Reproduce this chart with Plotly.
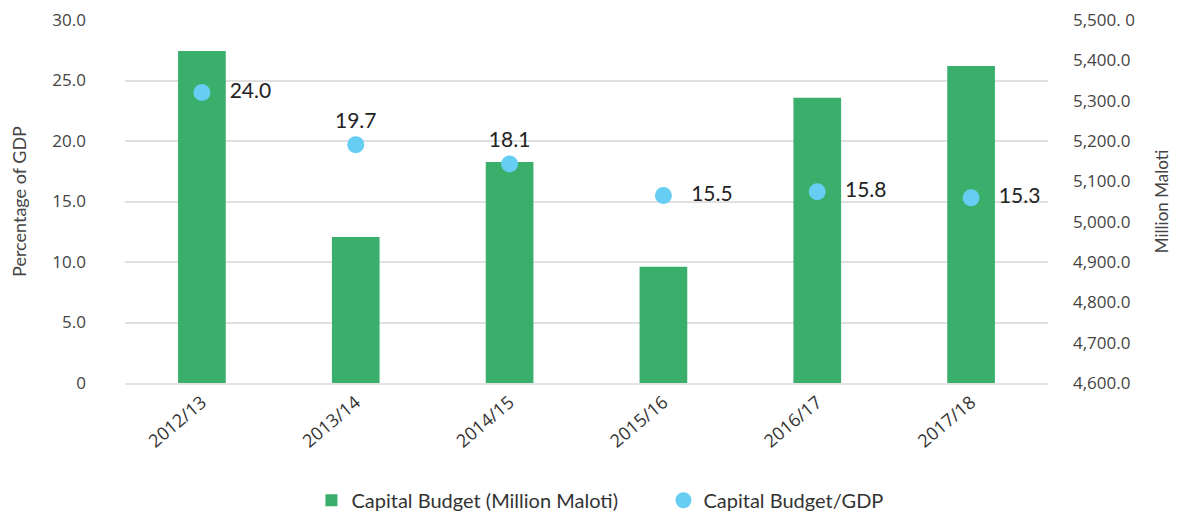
import plotly.graph_objects as go

years = ["2012/13", "2013/14", "2014/15", "2015/16", "2016/17", "2017/18"]
capital_budget = [5423, 4962, 5148, 4888, 5307, 5386]
budget_gdp = [24.0, 19.7, 18.1, 15.5, 15.8, 15.3]
label_pos = ["middle right", "top center", "top center", "middle right", "middle right", "middle right"]
left_ticks = [0, 5, 10, 15, 20, 25, 30]
left_ticktext = ["0", "5.0", "10.0", "15.0", "20.0", "25.0", "30.0"]
right_ticks = [4600, 4700, 4800, 4900, 5000, 5100, 5200, 5300, 5400, 5500]
right_ticktext = ["4,600.0", "4,700.0", "4,800.0", "4,900.0", "5,000.0", "5,100.0",
                  "5,200.0", "5,300.0", "5,400.0", "5,500. 0"]

FONT = "Lato"
TICKFONT = "Open Sans"
GREEN = "#3aaf6c"
BLUE = "#66cdf3"

fig = go.Figure()
# Bars on the primary (right-side) axis so the dots, on the overlaying axis, sit on top
fig.add_trace(go.Bar(
    x=years, y=capital_budget, yaxis="y", name="Capital Budget (Million Maloti)",
    marker=dict(color=GREEN, line=dict(width=0)),
))
fig.add_trace(go.Scatter(
    x=years, y=budget_gdp, yaxis="y2", mode="markers+text", name="Capital Budget/GDP",
    marker=dict(color=BLUE, size=17),
    text=["   " + f"{v:.1f}" if p == "middle right" else f"{v:.1f}" for v, p in zip(budget_gdp, label_pos)],
    textposition=label_pos,
    textfont=dict(family=FONT, size=21, color="#222"),
))

# page body adds an 8px offset, so the figure is 8px smaller than the window
fig.update_layout(
    width=1170, height=508,
    margin=dict(l=117, r=130, t=12, b=133),
    paper_bgcolor="white", plot_bgcolor="white",
    font=dict(family=FONT, color="#444"),
    bargap=0.69,
    showlegend=True,
    legend=dict(orientation="h", x=0.202, xanchor="left",
                yref="container", y=0.031, yanchor="middle",
                font=dict(family=FONT, size=20, color="#333"),
                traceorder="normal", itemwidth=30, entrywidth=307),
    xaxis=dict(
        tickangle=-40, tickfont=dict(family=TICKFONT, size=18, color="#333"),
        showline=True, linecolor="#e3e3e3", linewidth=2, ticks="",
        showgrid=False, automargin=False,
    ),
    yaxis=dict(
        range=[4600, 5500], tickvals=right_ticks, ticktext=right_ticktext,
        side="right", showgrid=False, zeroline=False, automargin=False,
        tickfont=dict(family=TICKFONT, size=17, color="#444"),
        ticklabelstandoff=24, ticklabeloverflow="allow",
        title=dict(text="Million Maloti", font=dict(family=FONT, size=17, color="#444"), standoff=22),
    ),
    yaxis2=dict(
        range=[0, 30], tickvals=left_ticks, ticktext=left_ticktext,
        overlaying="y", side="left", automargin=False,
        tickfont=dict(family=TICKFONT, size=17, color="#444"),
        showgrid=True, gridcolor="#e0e0e0", gridwidth=1.5, zeroline=False,
        ticklabelstandoff=38, ticklabeloverflow="allow",
        title=dict(text="Percentage of GDP", font=dict(family=FONT, size=18, color="#444"), standoff=22),
    ),
)

fig.write_html("out.html")
